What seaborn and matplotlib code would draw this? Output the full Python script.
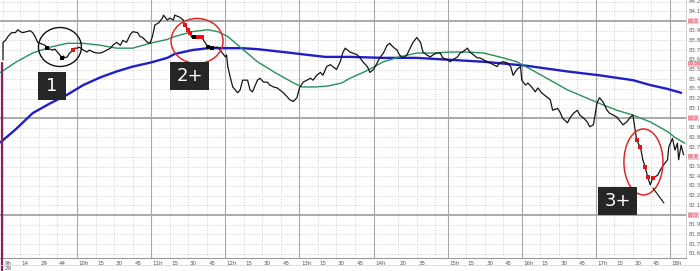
import numpy as np
import pandas as pd
import matplotlib
matplotlib.use("Agg")
import matplotlib.pyplot as plt
import matplotlib.transforms as mtransforms
from matplotlib.patches import Ellipse, Rectangle
import seaborn as sns

# ---------------- data (minutes after 9:00, price) ----------------
times = [
    0, 0, 2, 4, 7, 10, 12, 14, 16, 19,
    22, 24, 26, 28, 30, 32, 34, 36, 40, 42,
    44, 46, 48, 49, 50, 52, 54, 57, 58, 60,
    62, 65, 68, 70, 73, 76, 79, 81, 84, 87,
    89, 92, 95, 97, 100, 103, 105, 109, 111, 113,
    117, 119, 121, 123, 126, 129, 130, 133, 135, 138,
    139, 143, 146, 147, 150, 151, 153, 155, 158, 161,
    164, 166, 169, 172, 174, 177, 180, 181, 182, 184,
    186, 190, 192, 194, 198, 200, 202, 206, 208, 211,
    214, 216, 219, 222, 224, 227, 230, 232, 235, 238,
    240, 243, 246, 249, 251, 254, 257, 259, 262, 265,
    267, 270, 273, 275, 277, 279, 281, 283, 287, 289,
    292, 295, 297, 300, 303, 305, 308, 311, 313, 316,
    319, 321, 324, 327, 330, 332, 335, 338, 340, 343,
    346, 348, 351, 354, 356, 360, 362, 364, 368, 370,
    372, 376, 378, 381, 384, 386, 389, 392, 394, 397,
    400, 402, 405, 408, 411, 413, 416, 419, 420, 423,
    425, 428, 431, 433, 436, 440, 443, 445, 449, 451,
    453, 457, 459, 462, 465, 467, 470, 473, 475, 478,
    481, 483, 486, 489, 491, 494, 497, 500, 502, 505,
    508, 510, 512, 513, 516, 517, 518, 520, 522, 524,
    526, 530, 532, 535, 538, 539, 542, 544, 546, 547,
    549, 551,
]
prices = [
    83.60, 83.78, 83.80, 83.84, 83.88, 83.88, 83.91, 83.89, 83.88, 83.89,
    83.90, 83.88, 83.84, 83.78, 83.77, 83.76, 83.75, 83.72, 83.70, 83.71,
    83.68, 83.65, 83.62, 83.64, 83.62, 83.63, 83.67, 83.70, 83.72, 83.72,
    83.73, 83.70, 83.68, 83.70, 83.68, 83.67, 83.67, 83.68, 83.70, 83.72,
    83.75, 83.78, 83.75, 83.80, 83.78, 83.86, 83.89, 83.88, 83.84, 83.83,
    83.78, 83.77, 83.84, 83.96, 83.98, 84.03, 84.06, 84.01, 84.03, 84.01,
    84.06, 84.04, 84.01, 83.96, 83.91, 83.88, 83.83, 83.84, 83.84, 83.83,
    83.77, 83.73, 83.72, 83.73, 83.73, 83.68, 83.63, 83.65, 83.53, 83.42,
    83.32, 83.26, 83.29, 83.39, 83.39, 83.29, 83.27, 83.39, 83.41, 83.37,
    83.37, 83.34, 83.32, 83.31, 83.29, 83.26, 83.22, 83.19, 83.17, 83.21,
    83.31, 83.37, 83.39, 83.41, 83.39, 83.44, 83.47, 83.44, 83.53, 83.55,
    83.53, 83.50, 83.58, 83.67, 83.72, 83.70, 83.68, 83.67, 83.65, 83.62,
    83.57, 83.53, 83.47, 83.50, 83.57, 83.62, 83.67, 83.75, 83.77, 83.73,
    83.70, 83.65, 83.62, 83.65, 83.73, 83.78, 83.83, 83.78, 83.68, 83.65,
    83.63, 83.65, 83.67, 83.67, 83.62, 83.60, 83.58, 83.60, 83.63, 83.67,
    83.68, 83.72, 83.68, 83.65, 83.62, 83.62, 83.60, 83.58, 83.57, 83.55,
    83.53, 83.57, 83.58, 83.57, 83.53, 83.44, 83.50, 83.53, 83.39, 83.34,
    83.36, 83.32, 83.27, 83.31, 83.26, 83.22, 83.19, 83.08, 83.10, 83.06,
    83.00, 82.95, 83.00, 83.05, 83.08, 83.03, 83.00, 82.96, 82.91, 82.93,
    83.16, 83.21, 83.16, 83.08, 83.05, 83.03, 83.01, 82.96, 82.93, 82.96,
    83.01, 83.03, 82.86, 82.77, 82.70, 82.64, 82.57, 82.49, 82.39, 82.31,
    82.38, 82.41, 82.46, 82.52, 82.57, 82.70, 82.79, 82.67, 82.74, 82.57,
    82.72, 82.62,
]

ma_fast_times = [-2, 11, 24, 38, 52, 65, 79, 92, 105, 119, 133, 139, 153, 166, 174,
                 182, 193, 206, 220, 234, 242, 253, 263, 274, 281, 295, 308, 321,
                 335, 348, 362, 376, 389, 402, 416, 429, 443, 457, 470, 483, 497,
                 510, 524, 538, 544, 552]
ma_fast = [83.47, 83.58, 83.67, 83.73, 83.77, 83.77, 83.75, 83.72, 83.72, 83.77,
           83.81, 83.84, 83.89, 83.91, 83.89, 83.84, 83.72, 83.58, 83.47, 83.37,
           83.32, 83.32, 83.33, 83.36, 83.41, 83.49, 83.58, 83.63, 83.67, 83.67,
           83.68, 83.68, 83.67, 83.63, 83.58, 83.49, 83.39, 83.29, 83.22, 83.15,
           83.08, 83.03, 82.96, 82.86, 82.80, 82.74]

ma_slow_times = [-2, 10, 24, 38, 52, 65, 79, 92, 105, 119, 133, 139, 153, 166, 180,
                 193, 206, 220, 234, 247, 261, 281, 308, 335, 362, 389, 423, 457,
                 483, 510, 524, 538, 549]
ma_slow = [82.75, 82.88, 83.05, 83.15, 83.24, 83.34, 83.42, 83.48, 83.53, 83.57,
           83.62, 83.66, 83.70, 83.72, 83.72, 83.72, 83.71, 83.69, 83.67, 83.65,
           83.63, 83.63, 83.62, 83.62, 83.60, 83.58, 83.54, 83.48, 83.44, 83.39,
           83.34, 83.30, 83.26]

red_signal_times = [57, 147, 150, 151, 158, 161, 513, 516, 520, 522, 526]
black_signal_times = [36, 48, 155, 166, 169]

tick_minutes = [0, 14, 29, 44, 60, 75, 90, 105, 120, 135, 150, 165, 180, 195, 210,
                225, 240, 255, 270, 285, 300, 320, 335, 350, 360, 375, 390, 405,
                420, 435, 450, 465, 480, 495, 510, 525, 540]
tick_labels = ["9h", "14", "29", "44", "10h", "15", "30", "45", "11h", "15", "30",
               "45", "12h", "15", "30", "45", "13h", "15", "30", "45", "14h", "20",
               "35", "", "15h", "15", "30", "45", "16h", "15", "30", "45", "17h",
               "15", "30", "45", "18h"]
hour_minutes = [60, 120, 180, 240, 300, 360, 420, 480, 540]

price_levels = [84.2, 84.1, 83.9, 83.8, 83.7, 83.6, 83.5, 83.4, 83.3, 83.2, 83.1,
                82.9, 82.8, 82.7, 82.5, 82.4, 82.3, 82.2, 82.1, 81.9, 81.8, 81.7, 81.6]
major_levels = [84.0, 83.0, 82.0]
marker_levels = [84.00, 83.56, 83.00, 82.60, 82.00]
marker_labels = ["84.0", "83.56", "83.0", "82.6", "82.0"]

# ---------------- figure ----------------
sns.set_style("white")
fig = plt.figure(figsize=(7.0, 2.71), dpi=100)
ax = fig.add_axes([0.0, 13 / 271, 686 / 700, 258 / 271])
ax.set_xlim(-2.43, 552.96)
ax.set_ylim(81.557, 84.2165)

# grid
for lv in np.arange(81.6, 84.25, 0.1):
    ax.axhline(lv, color="#cccccc", lw=0.5, ls=(0, (2, 2)), zorder=0)
for lv in major_levels:
    ax.axhline(lv, color="#a4a4a4", lw=1.3, zorder=0.5)
for tm in tick_minutes:
    if tm in hour_minutes:
        ax.axvline(tm, color="#a8a8a8", lw=0.8, zorder=0.5)
    else:
        ax.axvline(tm, color="#cccccc", lw=0.5, ls=(0, (2, 2)), zorder=0)

# moving averages
sns.lineplot(x=ma_slow_times, y=ma_slow, ax=ax, color="#1f1fc8", lw=1.7,
             estimator=None, sort=False, zorder=2)
sns.lineplot(x=ma_fast_times, y=ma_fast, ax=ax, color="#2a8f5e", lw=1.0,
             estimator=None, sort=False, zorder=2)

# price
sns.lineplot(x=times, y=prices, ax=ax, color="#151515", lw=0.9,
             estimator=None, sort=False, zorder=3)

lookup = dict(zip(times, prices))
ax.scatter(red_signal_times, [lookup[t] for t in red_signal_times], marker="s",
           s=6, color="#e81010", zorder=4, linewidths=0)
ax.scatter(black_signal_times, [lookup[t] for t in black_signal_times], marker="s",
           s=8, color="#000000", zorder=4, linewidths=0)

# session start marker
ax.plot([-0.8, -0.8], [81.42, 83.57], color="#8a1f62", lw=1.6, clip_on=False, zorder=3)

# annotations
ax.add_patch(Ellipse((46.1, 83.732), 34.8, 0.402, fill=False, ec="#111111", lw=1.0, zorder=5))
ax.add_patch(Ellipse((157.1, 83.794), 42.1, 0.464, fill=False, ec="#e02828", lw=1.1, zorder=5))
ax.add_patch(Ellipse((518.5, 82.547), 31.6, 0.680, fill=False, ec="#e02828", lw=1.1, zorder=5))

boxes = [((28.3, 83.186), 22.7, 0.288, "1"),
         ((135.2, 83.289), 31.6, 0.288, "2+"),
         ((481.7, 82.000), 31.6, 0.289, "3+")]
for (x0, y0), w, h, txt in boxes:
    ax.add_patch(Rectangle((x0, y0), w, h, facecolor="#262626", edgecolor="none", zorder=6))
    ax.text(x0 + w / 2, y0 + h / 2, txt, color="white", fontsize=13,
            ha="center", va="center", zorder=7)
ax.plot([526.2, 535.1], [82.278, 82.124], color="#111111", lw=0.8, zorder=6)

# axes styling
for side in ["top", "left"]:
    ax.spines[side].set_visible(False)
ax.spines["bottom"].set_color("#9a9a9a")
ax.spines["bottom"].set_linewidth(0.8)
ax.spines["right"].set_color("#c8c8c8")
ax.spines["right"].set_linewidth(0.6)
ax.set_yticks([])
ax.set_xticks(tick_minutes)
ax.set_xticklabels(tick_labels, fontsize=4, color="#555555")
ax.tick_params(axis="x", direction="out", length=2, width=0.5, color="#888888", pad=0.5)
offset = mtransforms.ScaledTranslation(1.5 / 100, 0, fig.dpi_scale_trans)
for lab in ax.get_xticklabels():
    lab.set_horizontalalignment("left")
    lab.set_transform(lab.get_transform() + offset)
ax.set_xlabel("")
ax.set_ylabel("")

trans = mtransforms.blended_transform_factory(ax.transAxes, ax.transData)
for lv in price_levels:
    ax.text(1.004, lv, f"{lv:.1f}", transform=trans, fontsize=4, color="#666666",
            ha="left", va="center", clip_on=False)
for lv, lab in zip(marker_levels, marker_labels):
    ax.text(1.003, lv, lab, transform=trans, fontsize=3.3, color="#e0405a",
            ha="left", va="center", clip_on=False,
            bbox=dict(boxstyle="square,pad=0.12", facecolor="#f6c4cb", edgecolor="none"))

fig.text(5 / 700, 1 - 268 / 271, "29", fontsize=4, color="#555555", ha="left", va="center")
fig.add_artist(plt.Line2D([0, 1], [1 - 265 / 271, 1 - 265 / 271], color="#d0d0d0", lw=0.5))

fig.savefig("out.png", dpi=100)
